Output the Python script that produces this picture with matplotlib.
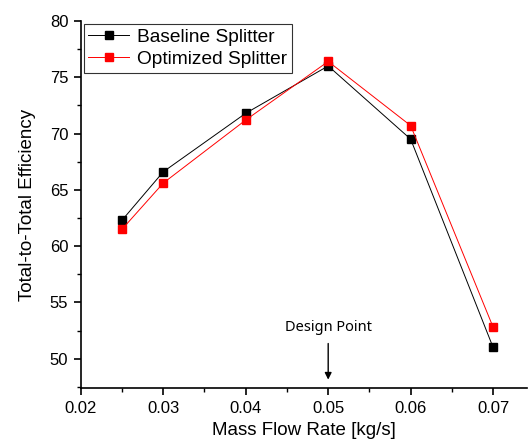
import matplotlib
matplotlib.use('Agg')
import matplotlib.pyplot as plt
from matplotlib.ticker import MultipleLocator

plt.rcParams['font.family'] = ['Liberation Sans', 'DejaVu Sans']

mass_flow = [0.025, 0.03, 0.04, 0.05, 0.06, 0.07]
baseline = [62.3, 66.6, 71.8, 76.0, 69.5, 51.0]
optimized = [61.5, 65.6, 71.2, 76.4, 70.7, 52.8]

fig = plt.figure(figsize=(5.28, 4.45), dpi=100)
ax = fig.add_axes([0.153, 0.128, 0.845, 0.825])

ax.plot(mass_flow, baseline, color='black', lw=0.7, marker='s', ms=5.8,
        label='Baseline Splitter')
ax.plot(mass_flow, optimized, color='red', lw=0.7, marker='s', ms=5.8,
        label='Optimized Splitter')

ax.set_xlim(0.02, 0.0741)
ax.set_ylim(47.4, 80)
ax.xaxis.set_major_locator(MultipleLocator(0.01))
ax.xaxis.set_minor_locator(MultipleLocator(0.005))
ax.yaxis.set_major_locator(MultipleLocator(5))
ax.yaxis.set_minor_locator(MultipleLocator(2.5))
ax.set_xticks([0.02, 0.03, 0.04, 0.05, 0.06, 0.07])
ax.set_xticklabels(['0.02', '0.03', '0.04', '0.05', '0.06', '0.07'])

for s in ['top', 'right']:
    ax.spines[s].set_visible(False)
for s in ['left', 'bottom']:
    ax.spines[s].set_linewidth(1.2)
ax.tick_params(which='major', direction='out', length=5, width=1.2,
               labelsize=12, pad=4)
ax.tick_params(which='minor', direction='out', length=3, width=1.0)

ax.set_xlabel('Mass Flow Rate [kg/s]', fontsize=13.5, labelpad=5)
ax.set_ylabel('Total-to-Total Efficiency', fontsize=13.5, labelpad=10)

ax.annotate('', xy=(0.05, 47.9), xytext=(0.05, 51.6),
            arrowprops=dict(arrowstyle='-|>', color='black', lw=1.0,
                            mutation_scale=10))
ax.text(0.05, 52.1, 'Design Point', ha='center', va='bottom', fontsize=10.5,
        family=['Noto Sans', 'DejaVu Sans'])

leg = ax.legend(loc='upper left', bbox_to_anchor=(0.0, 1.0), fontsize=13.8,
                frameon=True, fancybox=False, edgecolor='black',
                handlelength=2.1, borderpad=0.25, labelspacing=0.25,
                handletextpad=0.45, borderaxespad=0.15)
leg.get_frame().set_linewidth(0.8)

fig.savefig('out.png', dpi=100)
